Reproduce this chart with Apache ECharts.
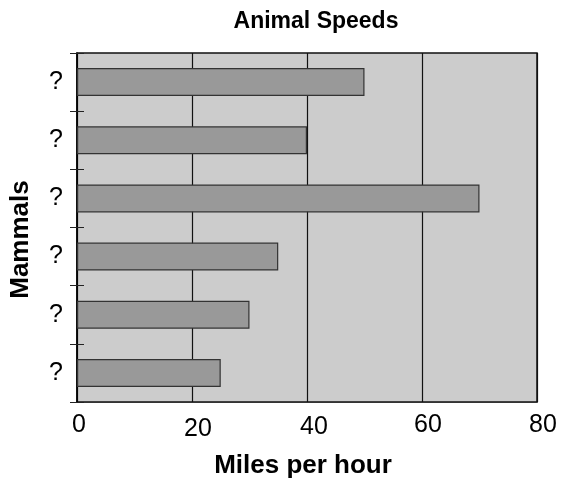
<!DOCTYPE html>
<html>
<head>
<meta charset="utf-8">
<script src="https://cdn.jsdelivr.net/npm/echarts@6/dist/echarts.min.js"></script>
<style>
html,body{margin:0;padding:0;background:#fff;}
#chart{width:561px;height:487px;}
</style>
</head>
<body>
<div id="chart"></div>
<script>
const chartTitle = 'Animal Speeds';
const animals = ['?', '?', '?', '?', '?', '?'];
const speeds = [50, 40, 70, 35, 30, 25];
const xTicks = [0, 20, 40, 60, 80];
const xName = 'Miles per hour';
const yName = 'Mammals';

// small per-label nudges of the x tick labels seen in the reference [dx, dy]
const xLabelNudge = [[2, 0], [6, 3.5], [7, 1.5], [6, 0], [6, 0]];

const FONT = '"Liberation Sans", Arial, Helvetica, sans-serif';
const rich = {};
xTicks.forEach((v, i) => {
  rich['t' + i] = {
    fontFamily: FONT, fontSize: 25, color: '#000',
    padding: [xLabelNudge[i][1], 0, 0, 2 * xLabelNudge[i][0]]
  };
});

const chart = echarts.init(document.getElementById('chart'), null, {renderer: 'canvas'});
chart.setOption({
  animation: false,
  backgroundColor: '#ffffff',
  title: {
    text: chartTitle,
    left: 311,
    textAlign: 'center',
    top: 5,
    textStyle: {fontFamily: FONT, fontSize: 23, fontWeight: 'bold', color: '#000'}
  },
  grid: {
    left: 76, right: 24, top: 53, bottom: 85,
    show: true, backgroundColor: '#cccccc', borderColor: '#111', borderWidth: 1.5
  },
  xAxis: {
    type: 'value',
    min: xTicks[0], max: xTicks[xTicks.length - 1], interval: 20,
    name: xName, nameLocation: 'middle', nameGap: 51,
    nameTextStyle: {fontFamily: FONT, fontSize: 26, fontWeight: 'bold', color: '#000', padding: [0, 8, 0, 0]},
    axisLine: {show: true, lineStyle: {color: '#333', width: 1}},
    axisTick: {show: false},
    axisLabel: {
      margin: 11,
      formatter: function (v) {
        const i = xTicks.indexOf(v);
        return '{t' + i + '|' + v + '}';
      },
      rich: rich
    },
    splitLine: {show: true, lineStyle: {color: '#111', width: 1.2}}
  },
  yAxis: [{
    type: 'category',
    data: animals,
    inverse: true,
    name: yName, nameLocation: 'middle', nameGap: 43, nameRotate: 90,
    nameTextStyle: {fontFamily: FONT, fontSize: 26, fontWeight: 'bold', color: '#000', padding: [0, 24, 0, 0]},
    axisLine: {show: true, lineStyle: {color: '#000', width: 1.5}},
    axisTick: {show: true, length: 7, alignWithLabel: false, lineStyle: {color: '#222', width: 1}},
    axisLabel: {fontFamily: FONT, fontSize: 25, color: '#000', margin: 14},
    splitLine: {show: false}
  }, {
    type: 'category',
    data: animals,
    inverse: true,
    position: 'left',
    axisLine: {show: false},
    axisTick: {show: true, inside: true, length: 7, alignWithLabel: false, lineStyle: {color: '#222', width: 1}},
    axisLabel: {show: false},
    splitLine: {show: false}
  }],
  series: [{
    type: 'bar',
    data: speeds,
    yAxisIndex: 0,
    barWidth: '48%',
    itemStyle: {color: '#999999', borderColor: '#333', borderWidth: 1.2}
  }]
});
</script>
</body>
</html>
